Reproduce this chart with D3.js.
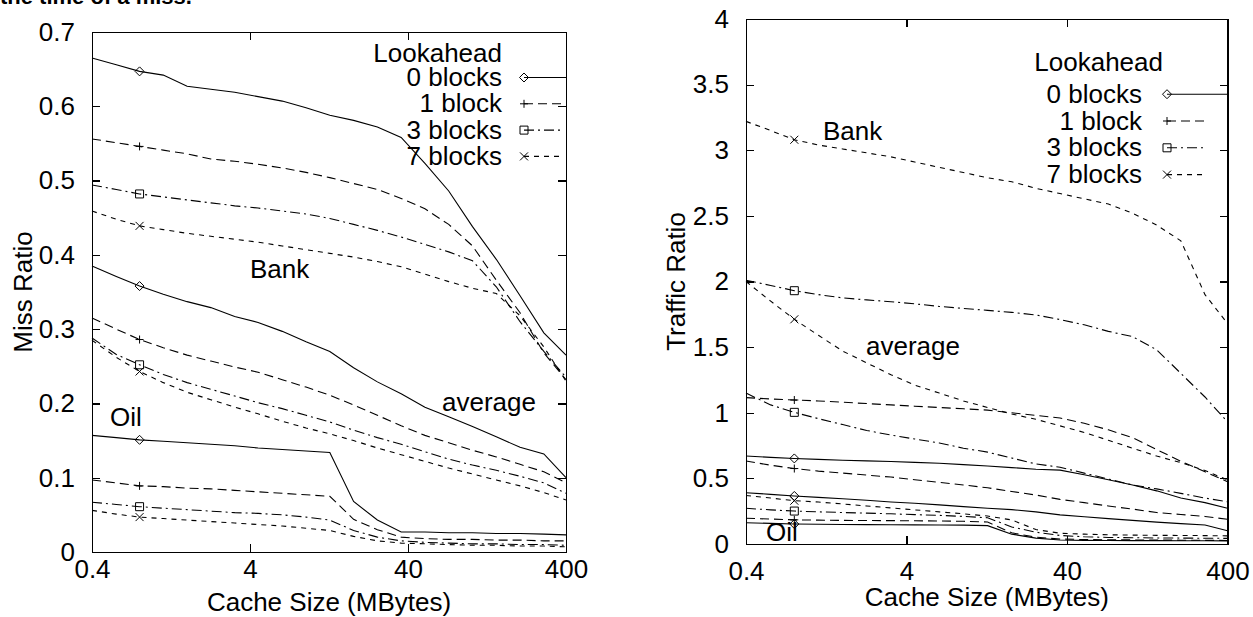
<!DOCTYPE html>
<meta charset="utf-8">
<style>
body { margin: 0; background: #fff; }
svg text { font-family: "Liberation Sans", Arial, sans-serif; fill: #000; }
.axis path, .axis line {
  fill: none;
  stroke: #000;
  stroke-width: 1.2;
  shape-rendering: crispEdges;
}
.axis text { font-size: 26px; }
.curve { fill: none; stroke: #000; stroke-width: 1.1; }
.mark { fill: none; stroke: #000; stroke-width: 1; }
.lbl { font-size: 26px; }
</style>
<script src="https://d3js.org/d3.v7.min.js"></script>
<body>
<script>
// cache sizes (MBytes) where the curves are sampled
var cacheSizes = [0.4, 0.57, 0.8, 1.13, 1.6, 2.26, 3.2, 4.5, 6.4, 9.05, 12.8, 18.1, 25.6, 36.2, 51.2, 72.4, 102.4, 144.8, 204.8, 289.6, 400];
var sizeTicks = [0.4, 4, 40, 400];
var missTicks = [0, 0.1, 0.2, 0.3, 0.4, 0.5, 0.6, 0.7];
var trafficTicks = [0, 0.5, 1, 1.5, 2, 2.5, 3, 3.5, 4];
var lookaheadLabels = ["0 blocks", "1 block", "3 blocks", "7 blocks"];

// miss ratio, lookahead 0 / 1 / 3 / 7 blocks
var missBank0 = [0.665, 0.656, 0.647, 0.642, 0.627, 0.623, 0.619, 0.613, 0.607, 0.598, 0.588, 0.581, 0.572, 0.558, 0.523, 0.486, 0.438, 0.394, 0.345, 0.295, 0.265];
var missBank1 = [0.556, 0.551, 0.546, 0.541, 0.536, 0.529, 0.526, 0.522, 0.517, 0.511, 0.504, 0.496, 0.488, 0.476, 0.462, 0.441, 0.412, 0.366, 0.322, 0.268, 0.232];
var missBank3 = [0.494, 0.488, 0.482, 0.478, 0.474, 0.470, 0.466, 0.463, 0.459, 0.455, 0.449, 0.441, 0.433, 0.424, 0.414, 0.404, 0.392, 0.357, 0.310, 0.270, 0.235];
var missBank7 = [0.459, 0.448, 0.439, 0.434, 0.429, 0.425, 0.421, 0.417, 0.412, 0.407, 0.402, 0.397, 0.391, 0.384, 0.374, 0.364, 0.355, 0.348, 0.318, 0.276, 0.230];
var missAvg0 = [0.385, 0.371, 0.358, 0.347, 0.337, 0.329, 0.317, 0.309, 0.297, 0.283, 0.270, 0.248, 0.229, 0.213, 0.195, 0.182, 0.169, 0.155, 0.141, 0.132, 0.100];
var missAvg1 = [0.315, 0.300, 0.286, 0.275, 0.265, 0.257, 0.249, 0.242, 0.232, 0.222, 0.211, 0.198, 0.184, 0.170, 0.157, 0.147, 0.137, 0.128, 0.118, 0.108, 0.093];
var missAvg3 = [0.288, 0.266, 0.252, 0.239, 0.228, 0.219, 0.210, 0.201, 0.193, 0.184, 0.175, 0.164, 0.154, 0.145, 0.135, 0.125, 0.117, 0.110, 0.102, 0.093, 0.079];
var missAvg7 = [0.285, 0.262, 0.243, 0.228, 0.215, 0.205, 0.195, 0.186, 0.176, 0.167, 0.159, 0.150, 0.140, 0.131, 0.122, 0.113, 0.105, 0.097, 0.089, 0.080, 0.070];
var missOil0 = [0.157, 0.154, 0.151, 0.149, 0.147, 0.145, 0.143, 0.140, 0.138, 0.136, 0.134, 0.068, 0.043, 0.027, 0.027, 0.026, 0.026, 0.025, 0.025, 0.024, 0.023];
var missOil1 = [0.097, 0.093, 0.089, 0.088, 0.086, 0.085, 0.083, 0.081, 0.079, 0.077, 0.075, 0.044, 0.030, 0.020, 0.018, 0.017, 0.017, 0.016, 0.016, 0.015, 0.015];
var missOil3 = [0.067, 0.064, 0.061, 0.059, 0.057, 0.055, 0.053, 0.052, 0.050, 0.047, 0.043, 0.029, 0.020, 0.015, 0.013, 0.012, 0.011, 0.011, 0.010, 0.010, 0.009];
var missOil7 = [0.056, 0.051, 0.047, 0.045, 0.043, 0.041, 0.039, 0.037, 0.035, 0.032, 0.029, 0.021, 0.015, 0.012, 0.011, 0.010, 0.009, 0.009, 0.008, 0.008, 0.007];

// traffic ratio, lookahead 0 / 1 / 3 / 7 blocks
var trafBank0 = [0.670, 0.660, 0.652, 0.645, 0.638, 0.633, 0.628, 0.622, 0.615, 0.605, 0.594, 0.582, 0.570, 0.563, 0.527, 0.490, 0.450, 0.405, 0.350, 0.315, 0.272];
var trafBank1 = [1.115, 1.105, 1.097, 1.090, 1.080, 1.070, 1.060, 1.050, 1.040, 1.030, 1.020, 1.000, 0.980, 0.960, 0.920, 0.870, 0.810, 0.720, 0.630, 0.550, 0.475];
var trafBank3 = [2.010, 1.970, 1.930, 1.900, 1.875, 1.860, 1.846, 1.830, 1.810, 1.795, 1.780, 1.765, 1.745, 1.710, 1.670, 1.620, 1.580, 1.480, 1.300, 1.120, 0.930];
var trafBank7 = [3.220, 3.150, 3.080, 3.040, 3.010, 2.980, 2.950, 2.910, 2.870, 2.830, 2.790, 2.760, 2.710, 2.670, 2.630, 2.590, 2.520, 2.430, 2.310, 1.900, 1.680];
var trafAvg0 = [0.391, 0.378, 0.366, 0.355, 0.345, 0.333, 0.320, 0.310, 0.298, 0.285, 0.272, 0.262, 0.245, 0.222, 0.208, 0.193, 0.180, 0.167, 0.155, 0.145, 0.101];
var trafAvg1 = [0.632, 0.600, 0.575, 0.555, 0.540, 0.525, 0.510, 0.490, 0.470, 0.450, 0.428, 0.400, 0.373, 0.340, 0.315, 0.290, 0.266, 0.240, 0.225, 0.210, 0.188];
var trafAvg3 = [1.150, 1.060, 1.003, 0.955, 0.910, 0.865, 0.830, 0.800, 0.770, 0.730, 0.700, 0.655, 0.610, 0.585, 0.540, 0.495, 0.450, 0.420, 0.386, 0.350, 0.322];
var trafAvg7 = [2.000, 1.850, 1.712, 1.590, 1.470, 1.380, 1.290, 1.210, 1.150, 1.090, 1.040, 0.990, 0.950, 0.900, 0.850, 0.790, 0.730, 0.670, 0.620, 0.560, 0.488];
var trafOil0 = [0.162, 0.157, 0.152, 0.150, 0.149, 0.148, 0.147, 0.146, 0.145, 0.144, 0.140, 0.075, 0.045, 0.030, 0.028, 0.027, 0.026, 0.026, 0.025, 0.025, 0.024];
var trafOil1 = [0.196, 0.190, 0.184, 0.182, 0.180, 0.179, 0.178, 0.177, 0.175, 0.173, 0.168, 0.085, 0.052, 0.038, 0.034, 0.032, 0.031, 0.030, 0.029, 0.028, 0.027];
var trafOil3 = [0.272, 0.260, 0.251, 0.245, 0.240, 0.235, 0.230, 0.224, 0.218, 0.210, 0.200, 0.130, 0.090, 0.065, 0.055, 0.050, 0.048, 0.046, 0.045, 0.044, 0.043];
var trafOil7 = [0.370, 0.350, 0.330, 0.320, 0.305, 0.290, 0.275, 0.260, 0.245, 0.230, 0.213, 0.183, 0.110, 0.082, 0.075, 0.070, 0.068, 0.066, 0.065, 0.064, 0.062];

// line style per lookahead
var dashes = [null, "9,5", "10,4,2,4", "5,5"];
var markerKinds = ["diamond", "plus", "square", "cross"];
var markerIndex = 2; // points are marked at 0.8 MB

var svg = d3.select("body").append("svg")
  .attr("width", 1253)
  .attr("height", 617);

// caption cut off at the top of the page
svg.append("text")
  .attr("x", 0)
  .attr("y", 4)
  .style("font-size", "22px")
  .style("font-weight", "bold")
  .text("the time of a miss.");

function markerPath(kind) {
  if (kind == "diamond") return "M0,-4.5L4.5,0L0,4.5L-4.5,0Z";
  if (kind == "plus") return "M-4,0H4M0,-4V4";
  if (kind == "square") return "M-4,-4H4V4H-4Z";
  return "M-4,-4L4,4M-4,4L4,-4";
}

function drawPanel(p) {
  var x = d3.scaleLog().domain([0.4, 400]).range([p.left, p.right]);
  var y = d3.scaleLinear().domain([0, p.yMax]).range([p.bottom, p.top]);

  // frame with inward ticks on all four sides
  svg.append("g").attr("class", "axis")
    .attr("transform", "translate(0," + p.bottom + ")")
    .call(d3.axisBottom(x).tickValues(sizeTicks).tickFormat(d => String(d))
      .tickSizeInner(-8).tickSizeOuter(0).tickPadding(p.xPad));
  svg.append("g").attr("class", "axis")
    .attr("transform", "translate(0," + p.top + ")")
    .call(d3.axisTop(x).tickValues(sizeTicks).tickFormat("")
      .tickSizeInner(-8).tickSizeOuter(0));
  svg.append("g").attr("class", "axis")
    .attr("transform", "translate(" + p.left + ",0)")
    .call(d3.axisLeft(y).tickValues(p.yTicks).tickFormat(d => String(d))
      .tickSizeInner(-8).tickSizeOuter(0).tickPadding(17));
  svg.append("g").attr("class", "axis")
    .attr("transform", "translate(" + p.right + ",0)")
    .call(d3.axisRight(y).tickValues(p.yTicks).tickFormat("")
      .tickSizeInner(-8).tickSizeOuter(0));

  var line = d3.line()
    .x(d => x(d[0]))
    .y(d => y(d[1]));

  p.groups.forEach(function(group) {
    group.forEach(function(vals, i) {
      var pts = d3.zip(cacheSizes, vals);
      svg.append("path")
        .attr("class", "curve")
        .attr("stroke-dasharray", dashes[i])
        .attr("d", line(pts));
      svg.append("path")
        .attr("class", "mark")
        .attr("transform", "translate(" + x(pts[markerIndex][0]) + "," + y(pts[markerIndex][1]) + ")")
        .attr("d", markerPath(markerKinds[i]));
    });
  });

  // legend
  svg.append("text").attr("class", "lbl")
    .attr("x", p.legend.headX).attr("y", p.legend.headY)
    .attr("text-anchor", "end")
    .text("Lookahead");
  lookaheadLabels.forEach(function(name, i) {
    var by = p.legend.rowY + i * p.legend.step;
    svg.append("text").attr("class", "lbl")
      .attr("x", p.legend.textX).attr("y", by)
      .attr("text-anchor", "end")
      .text(name);
    svg.append("line")
      .attr("class", "curve")
      .attr("stroke-dasharray", dashes[i])
      .attr("x1", p.legend.markX).attr("x2", i == 0 ? p.right : p.legend.lineEnd)
      .attr("y1", by - 8.5).attr("y2", by - 8.5);
    svg.append("path")
      .attr("class", "mark")
      .attr("transform", "translate(" + p.legend.markX + "," + (by - 8.5) + ")")
      .attr("d", markerPath(markerKinds[i]));
  });

  // workload names
  p.names.forEach(function(n) {
    svg.append("text").attr("class", "lbl")
      .attr("x", n[1]).attr("y", n[2])
      .text(n[0]);
  });

  // axis titles
  svg.append("text").attr("class", "lbl")
    .attr("x", (p.left + p.right) / 2).attr("y", p.xTitleY)
    .attr("text-anchor", "middle")
    .text("Cache Size (MBytes)");
  svg.append("text").attr("class", "lbl")
    .attr("transform", "translate(" + p.yTitleX + "," + ((p.top + p.bottom) / 2) + ") rotate(-90)")
    .attr("text-anchor", "middle")
    .text(p.yTitle);
}

drawPanel({
  left: 92, right: 566, top: 32, bottom: 552,
  yMax: 0.7, yTicks: missTicks, xPad: 7.5,
  yTitle: "Miss Ratio", yTitleX: 32, xTitleY: 611,
  groups: [
    [missBank0, missBank1, missBank3, missBank7],
    [missAvg0, missAvg1, missAvg3, missAvg7],
    [missOil0, missOil1, missOil3, missOil7]
  ],
  legend: { headX: 502, headY: 61.5, textX: 502, rowY: 86, step: 26.3, markX: 524, lineEnd: 561 },
  names: [["Bank", 250, 278], ["average", 442, 411], ["Oil", 110, 426]]
});

drawPanel({
  left: 746, right: 1227.5, top: 19, bottom: 544,
  yMax: 4, yTicks: trafficTicks, xPad: 17.5,
  yTitle: "Traffic Ratio", yTitleX: 685, xTitleY: 606,
  groups: [
    [trafBank0, trafBank1, trafBank3, trafBank7],
    [trafAvg0, trafAvg1, trafAvg3, trafAvg7],
    [trafOil0, trafOil1, trafOil3, trafOil7]
  ],
  legend: { headX: 1163, headY: 70.5, textX: 1142, rowY: 102.7, step: 26.8, markX: 1167, lineEnd: 1207 },
  names: [["Bank", 823, 140], ["average", 866, 355], ["Oil", 766, 541]]
});
</script>
